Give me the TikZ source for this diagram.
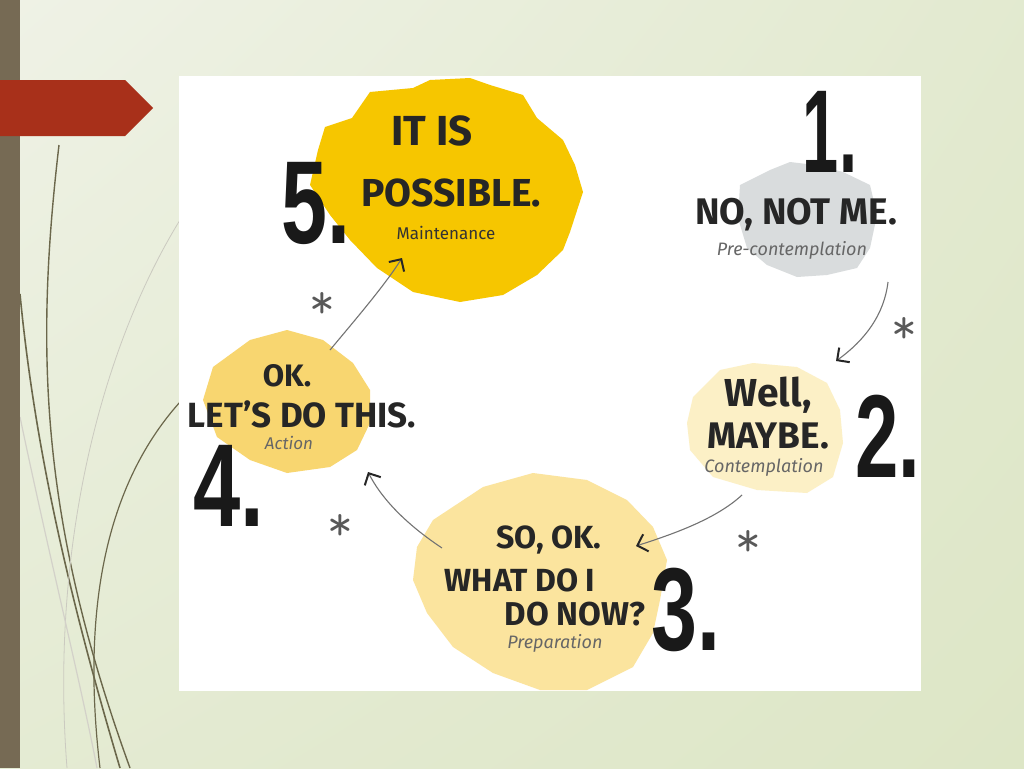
\documentclass[tikz,border=0pt]{standalone}
\usepackage{fontspec}
\setmainfont{Fira Sans}
\newfontfamily\numfont{Liberation Sans}
\usetikzlibrary{arrows.meta,shadings}
\definecolor{bgA}{HTML}{EFF2E6}
\definecolor{bgB}{HTML}{DDE6C6}
\definecolor{barcol}{HTML}{766A54}
\definecolor{redcol}{HTML}{A8301A}
\definecolor{wisp}{HTML}{6B674B}
\definecolor{yel5}{HTML}{F6C600}
\definecolor{yel4}{HTML}{F8D670}
\definecolor{yel3}{HTML}{FBE49E}
\definecolor{yel2}{HTML}{FCF0C6}
\definecolor{gray1}{HTML}{D9DCDD}
\begin{document}
\begin{tikzpicture}[x=1pt,y=-1pt,
  hand/.style={font=\fontsize{#1}{#1}\selectfont\bfseries, text=black!85, inner sep=0pt},
  sub/.style={font=\fontsize{#1}{#1}\selectfont\itshape, text=black!60, inner sep=0pt},
  num/.style={font=\fontsize{118}{118}\selectfont\numfont\bfseries, text=black!90, inner sep=0pt},
  star/.style={font=\fontsize{50}{50}\selectfont\ttfamily, text=black!65, inner sep=0pt},
  flow/.style={draw=black!55, line width=1.1pt, -{Straight Barb[length=9pt,width=18pt,line width=2pt,color=black!85]}},
  wispline/.style={draw=wisp, line width=#1}
]
\useasboundingbox (0,0) rectangle (1024,768);
% background
\shade[upper left=bgA, upper right=bgB!70!bgA, lower left=bgB!60!bgA, lower right=bgB] (0,0) rectangle (1024,768);
% decorative wisps
\draw[wispline=1.4pt] (59,145) .. controls (35,350) and (40,520) .. (130,768);
\draw[wispline=1.6pt] (20,294) .. controls (35,450) and (70,600) .. (120,768);
\draw[wispline=1.2pt] (180,402) .. controls (110,480) and (80,600) .. (100,768);
\draw[wispline=0.8pt, wisp!35] (180,220) .. controls (100,350) and (50,550) .. (67,768);
\draw[wispline=1.2pt, wisp!30] (20,417) .. controls (50,560) and (80,680) .. (97,768);
% left bar and red arrow
\fill[barcol] (0,0) rectangle (20,768);
\fill[redcol] (0,80) -- (125,80) -- (153,108) -- (125,136) -- (0,136) -- cycle;
% white picture area
\fill[white] (179,76) rectangle (921,691);
% blobs
\fill[yel5] (325,127) -- (352,118) -- (370,92) -- (413,88) -- (430,80) -- (470,78) -- (490,85) -- (523,95) -- (537,118) -- (563,140) -- (575,165) -- (583,192) -- (570,232) -- (563,250) -- (537,275) -- (503,295) -- (460,302) -- (413,292) -- (377,268) -- (350,240) -- (330,215) -- (310,185) -- (318,150) -- cycle;
\fill[gray1] (740,185) -- (770,170) -- (790,162) -- (815,165) -- (843,172) -- (870,185) -- (877,215) -- (870,248) -- (857,268) -- (827,275) -- (797,277) -- (767,265) -- (747,248) -- (738,218) -- cycle;
\fill[yel2] (693,397) -- (720,370) -- (753,363) -- (797,367) -- (827,383) -- (840,410) -- (843,443) -- (833,477) -- (807,493) -- (757,490) -- (713,477) -- (690,450) -- (687,423) -- cycle;
\fill[yel4] (213,367) -- (250,340) -- (287,330) -- (323,340) -- (353,363) -- (370,390) -- (370,423) -- (357,450) -- (330,467) -- (287,473) -- (250,460) -- (217,437) -- (203,400) -- cycle;
\fill[yel3] (433,520) -- (483,487) -- (533,473) -- (587,480) -- (627,500) -- (653,527) -- (667,560) -- (660,600) -- (653,633) -- (633,667) -- (587,690) -- (540,690) -- (493,673) -- (453,647) -- (427,613) -- (413,580) -- (417,547) -- cycle;
% stage 5
\node[num] (n5) at (316,203) {\scalebox{0.7}[1]{5.}};
\node[hand=42] (t5a) at (432,131) {IT IS};
\node[hand=39] (t5b) at (451,193) {POSSIBLE.};
\node[font=\fontsize{17}{17}\selectfont, text=black!80, inner sep=0pt] (t5c) at (446,233) {Maintenance};
% stage 1
\node[num] (n1) at (830,132) {\scalebox{0.55}[1]{1.}};
\node[hand=37] (t1a) at (796,215) {NO, NOT ME.};
\node[sub=18] (t1b) at (792,250) {Pre-contemplation};
% stage 2
\node[num] (n2) at (888,436) {\scalebox{0.66}[1]{2.}};
\node[hand=39] (t2a) at (768,395) {Well,};
\node[hand=37] (t2b) at (768,436) {MAYBE.};
\node[sub=18] (t2c) at (764,467) {Contemplation};
% stage 3
\node[num] (n3) at (686,610) {\scalebox{0.7}[1]{3.}};
\node[hand=32] (t3a) at (549,540) {SO, OK.};
\node[hand=32] (t3b) at (520,580) {WHAT DO I};
\node[hand=33] (t3c) at (575,614) {DO NOW?};
\node[sub=18] (t3d) at (555,643) {Preparation};
% stage 4
\node[num] (n4) at (229,486) {\scalebox{0.72}[1]{4.}};
\node[hand=31] (t4a) at (287,376) {OK.};
\node[hand=35] (t4b) at (302,414) {LET'S DO THIS.};
\node[sub=17] (t4c) at (289,443) {Action};
% asterisks
\node[star] (s1) at (904,330) {*};
\node[star] (s2) at (748,543) {*};
\node[star] (s3) at (340,527) {*};
\node[star] (s4) at (322,305) {*};
% arrows
\coordinate (a1s) at (888,282);
\coordinate (a1e) at (836,361);
\coordinate (a2s) at (742,495);
\coordinate (a2e) at (636,546);
\coordinate (a3s) at (442,548);
\coordinate (a3e) at (368,472);
\coordinate (a4s) at (330,350);
\coordinate (a4e) at (402,258);
\draw[flow] (a1s) .. controls (884,315) and (865,340) .. (a1e);
\draw[flow] (a2s) .. controls (715,520) and (670,535) .. (a2e);
\draw[flow] (a3s) .. controls (415,530) and (385,505) .. (a3e);
\draw[flow] (a4s) .. controls (355,320) and (385,285) .. (a4e);
\end{tikzpicture}
\end{document}
